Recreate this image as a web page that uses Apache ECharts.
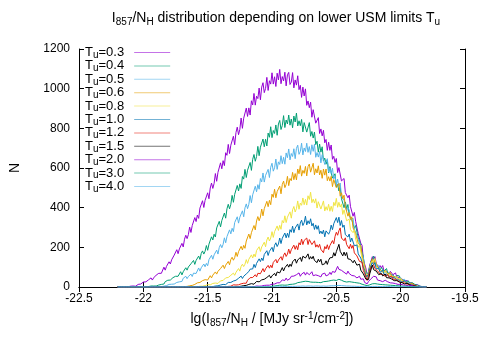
<!DOCTYPE html>
<html><head><meta charset="utf-8">
<script src="https://cdn.jsdelivr.net/npm/echarts@6/dist/echarts.min.js"></script>
<style>html,body{margin:0;padding:0;background:#fff}#c{width:491px;height:343px}</style>
</head><body><div id="c"></div>
<script>
var xs = [
-22.20,-22.19,-22.18,-22.17,-22.16,-22.15,-22.14,-22.13,-22.12,-22.11,
-22.10,-22.09,-22.08,-22.07,-22.06,-22.05,-22.04,-22.03,-22.02,-22.01,
-22.00,-21.99,-21.98,-21.97,-21.96,-21.95,-21.94,-21.93,-21.92,-21.91,
-21.90,-21.89,-21.88,-21.87,-21.86,-21.85,-21.84,-21.83,-21.82,-21.81,
-21.80,-21.79,-21.78,-21.77,-21.76,-21.75,-21.74,-21.73,-21.72,-21.71,
-21.70,-21.69,-21.68,-21.67,-21.66,-21.65,-21.64,-21.63,-21.62,-21.61,
-21.60,-21.59,-21.58,-21.57,-21.56,-21.55,-21.54,-21.53,-21.52,-21.51,
-21.50,-21.49,-21.48,-21.47,-21.46,-21.45,-21.44,-21.43,-21.42,-21.41,
-21.40,-21.39,-21.38,-21.37,-21.36,-21.35,-21.34,-21.33,-21.32,-21.31,
-21.30,-21.29,-21.28,-21.27,-21.26,-21.25,-21.24,-21.23,-21.22,-21.21,
-21.20,-21.19,-21.18,-21.17,-21.16,-21.15,-21.14,-21.13,-21.12,-21.11,
-21.10,-21.09,-21.08,-21.07,-21.06,-21.05,-21.04,-21.03,-21.02,-21.01,
-21.00,-20.99,-20.98,-20.97,-20.96,-20.95,-20.94,-20.93,-20.92,-20.91,
-20.90,-20.89,-20.88,-20.87,-20.86,-20.85,-20.84,-20.83,-20.82,-20.81,
-20.80,-20.79,-20.78,-20.77,-20.76,-20.75,-20.74,-20.73,-20.72,-20.71,
-20.70,-20.69,-20.68,-20.67,-20.66,-20.65,-20.64,-20.63,-20.62,-20.61,
-20.60,-20.59,-20.58,-20.57,-20.56,-20.55,-20.54,-20.53,-20.52,-20.51,
-20.50,-20.49,-20.48,-20.47,-20.46,-20.45,-20.44,-20.43,-20.42,-20.41,
-20.40,-20.39,-20.38,-20.37,-20.36,-20.35,-20.34,-20.33,-20.32,-20.31,
-20.30,-20.29,-20.28,-20.27,-20.26,-20.25,-20.24,-20.23,-20.22,-20.21,
-20.20,-20.19,-20.18,-20.17,-20.16,-20.15,-20.14,-20.13,-20.12,-20.11,
-20.10,-20.09,-20.08,-20.07,-20.06,-20.05,-20.04,-20.03,-20.02,-20.01,
-20.00,-19.99,-19.98,-19.97,-19.96,-19.95,-19.94,-19.93,-19.92,-19.91,
-19.90,-19.89,-19.88,-19.87,-19.86,-19.85,-19.84,-19.83,-19.82,-19.81,
-19.80];

var labels = ['0.3','0.4','0.5','0.6','0.8','1.0','1.2','1.5','2.0','3.0','4.0'];
var xTicks = [-22.5, -22, -21.5, -21, -20.5, -20, -19.5];
var yTicks = [0, 200, 400, 600, 800, 1000, 1200];

var t03 = [
0,0,0,0,0,0,0,1,1,2,
4,1,5,7,4,6,13,8,15,15,
25,19,26,21,36,33,46,35,46,46,
60,50,69,79,69,79,100,85,104,103,
127,116,137,128,161,158,188,168,192,192,
220,202,241,261,244,264,302,275,310,309,
350,330,363,346,398,390,435,401,437,434,
475,445,499,524,497,522,572,533,578,574,
626,596,637,612,677,664,719,673,715,710,
760,717,779,806,768,795,852,800,851,843,
902,860,903,867,939,918,976,917,962,950,
1003,944,1008,1030,980,1001,1057,991,1040,1023,
1080,1023,1060,1011,1078,1044,1097,1025,1061,1039,
1083,1014,1070,1082,1021,1033,1081,1004,1044,1018,
1065,995,1017,956,1008,963,999,916,938,904,
932,856,894,893,826,825,854,774,797,762,
790,727,744,689,730,689,716,644,659,628,
648,577,602,595,535,530,547,476,485,450,
463,405,407,357,376,331,333,269,262,221,
210,139,115,94,53,77,112,113,153,139,
153,120,119,96,108,96,108,83,91,80,
89,66,79,80,62,62,71,50,57,48,
55,40,44,32,41,32,37,22,25,18,
21,11,13,12,5,4,4,1,1,0,
0];
var t04 = [
0,0,0,0,0,0,0,0,0,0,
0,0,0,0,0,0,0,0,0,0,
0,0,1,2,2,4,5,4,5,9,
5,11,10,18,13,20,15,27,24,34,
25,35,34,47,37,54,63,54,62,77,
61,77,77,97,85,101,91,117,111,134,
114,134,133,156,139,169,182,166,180,209,
185,216,217,253,237,266,252,298,292,331,
303,335,335,373,347,394,417,394,417,462,
427,467,465,512,484,520,497,557,544,593,
552,589,583,628,588,644,668,634,658,709,
662,705,695,746,707,745,711,776,755,808,
753,789,774,817,765,822,840,794,814,864,
804,842,822,867,816,847,803,862,832,877,
812,838,813,845,782,829,837,781,790,829,
760,784,751,781,718,735,680,721,680,707,
635,650,619,639,575,607,605,549,548,571,
505,517,484,502,445,450,400,429,395,416,
361,367,339,348,296,310,301,248,234,233,
175,151,100,92,53,79,83,129,142,156,
124,123,104,110,83,98,99,80,82,93,
69,76,65,74,60,62,47,58,49,56,
38,42,34,39,25,32,31,19,18,22,
12,13,8,9,4,4,1,2,1,1,
0];
var t05 = [
0,0,0,0,0,0,0,0,0,0,
0,0,0,0,0,0,0,0,0,0,
0,0,0,0,0,0,0,0,0,0,
0,1,1,3,2,5,4,8,7,11,
13,10,14,22,15,24,23,33,26,35,
28,44,40,54,42,53,52,65,53,70,
78,68,77,96,80,97,95,116,102,119,
107,138,133,160,140,162,160,186,166,199,
214,198,215,248,223,254,252,288,268,296,
279,325,316,354,322,352,349,384,354,399,
419,395,417,461,425,465,462,508,480,516,
493,547,530,575,529,563,554,593,552,604,
624,584,601,645,593,631,618,662,622,654,
619,676,652,696,641,673,658,697,647,699,
715,669,683,725,666,701,683,725,679,708,
668,717,684,720,654,678,655,683,626,667,
674,618,619,647,579,601,572,599,545,559,
512,544,505,524,459,468,437,445,383,399,
388,339,333,347,291,294,262,267,219,210,
164,150,98,90,48,73,84,123,124,141,
141,110,103,109,83,91,82,92,75,81,
64,76,65,73,55,59,50,55,40,48,
48,34,34,39,25,28,22,25,16,17,
9,13,7,9,2,3,1,2,0,1,
0];
var t06 = [
0,0,0,0,0,0,0,0,0,0,
0,0,0,0,0,0,0,0,0,0,
0,0,0,0,0,0,0,0,0,0,
0,0,0,0,0,0,0,0,0,0,
0,0,0,0,0,0,0,0,0,0,
0,0,2,1,3,4,6,5,8,10,
13,12,21,15,23,22,32,24,37,43,
35,42,57,46,60,59,76,65,79,70,
93,89,110,93,110,109,129,112,139,150,
135,148,175,154,178,176,205,187,210,195,
232,229,267,244,274,275,310,288,333,355,
334,353,393,359,395,390,432,405,437,415,
468,452,493,450,481,472,509,470,517,534,
501,517,558,511,547,536,578,541,572,540,
595,571,612,559,588,573,608,560,607,620,
579,588,624,566,596,575,611,565,589,548,
595,564,595,536,556,534,558,506,542,547,
501,500,522,458,475,445,463,405,407,357,
376,341,354,298,302,270,272,220,227,208,
159,128,107,65,54,66,98,105,142,119,
137,114,115,89,91,82,89,72,83,83,
65,66,73,55,61,52,58,45,48,36,
44,36,40,27,29,22,25,15,18,18,
9,9,10,4,4,2,3,1,1,0,
0];
var t08 = [
0,0,0,0,0,0,0,0,0,0,
0,0,0,0,0,0,0,0,0,0,
0,0,0,0,0,0,0,0,0,0,
0,0,0,0,0,0,0,0,0,0,
0,0,0,0,0,0,0,0,0,0,
0,0,0,0,0,0,0,0,0,0,
0,1,1,2,4,3,4,4,7,7,
12,6,11,11,18,11,20,24,18,22,
31,23,33,33,46,38,48,41,59,55,
70,59,74,74,93,80,104,115,103,115,
138,119,140,137,162,146,166,152,184,176,
203,179,202,199,226,203,237,252,232,247,
279,250,279,274,308,285,311,291,335,323,
359,325,352,346,379,347,389,406,378,395,
434,392,423,412,449,415,442,413,460,441,
478,425,443,423,445,398,430,435,393,403,
434,383,405,387,417,382,407,381,427,410,
447,402,427,403,419,366,389,383,334,328,
342,289,299,274,288,241,241,200,212,177,
177,114,91,65,55,59,95,126,132,132,
144,106,104,91,96,80,85,70,83,72,
81,60,63,56,62,46,53,52,39,39,
45,30,33,27,32,20,21,13,18,12,
13,6,6,4,4,1,1,1,0,0,
0];
var t10 = [
0,0,0,0,0,0,0,0,0,0,
0,0,0,0,0,0,0,0,0,0,
0,0,0,0,0,0,0,0,0,0,
0,0,0,0,0,0,0,0,0,0,
0,0,0,0,0,0,0,0,0,0,
0,0,0,0,0,0,0,0,0,0,
0,0,0,0,0,0,0,0,0,0,
0,1,1,2,2,3,5,4,6,7,
10,5,13,16,12,15,23,15,23,21,
30,25,34,28,44,41,55,43,54,52,
66,56,78,90,80,91,114,98,119,118,
142,128,146,133,164,157,183,159,180,176,
200,178,210,223,204,217,247,219,246,241,
272,248,271,250,289,276,307,274,297,290,
318,287,323,337,310,324,357,313,334,319,
344,308,321,290,313,291,309,269,282,268,
287,253,283,293,266,281,312,289,319,313,
350,325,352,310,335,301,312,264,272,252,
267,227,247,245,208,203,212,167,173,146,
148,100,83,53,51,60,92,91,123,111,
123,92,96,93,74,74,84,65,72,62,
70,55,59,47,56,47,52,37,41,34,
38,25,31,30,20,19,24,13,15,10,
12,6,6,2,4,2,2,0,0,0,
0];
var t12 = [
0,0,0,0,0,0,0,0,0,0,
0,0,0,0,0,0,0,0,0,0,
0,0,0,0,0,0,0,0,0,0,
0,0,0,0,0,0,0,0,0,0,
0,0,0,0,0,0,0,0,0,0,
0,0,0,0,0,0,0,0,0,0,
0,0,0,0,0,0,0,0,0,0,
0,0,0,0,0,0,0,0,0,0,
0,1,1,3,1,3,3,6,4,8,
11,7,10,17,11,17,16,25,19,25,
19,34,33,47,37,48,48,62,51,69,
78,67,75,93,76,92,89,109,95,110,
97,124,117,139,121,136,134,153,135,160,
172,154,166,191,168,188,185,211,190,208,
188,223,212,242,214,235,231,247,214,239,
245,214,218,233,201,213,200,215,190,198,
173,204,192,213,189,209,208,234,218,255,
276,261,284,298,247,256,233,248,214,223,
193,216,195,210,172,177,157,164,129,135,
125,84,67,64,33,58,68,101,102,112,
93,101,82,88,65,71,63,70,54,63,
63,49,49,55,40,44,38,43,31,34,
23,31,24,27,16,18,14,16,8,11,
10,5,4,5,1,2,1,1,0,0,
0];
var t15 = [
0,0,0,0,0,0,0,0,0,0,
0,0,0,0,0,0,0,0,0,0,
0,0,0,0,0,0,0,0,0,0,
0,0,0,0,0,0,0,0,0,0,
0,0,0,0,0,0,0,0,0,0,
0,0,0,0,0,0,0,0,0,0,
0,0,0,0,0,0,0,0,0,0,
0,0,0,0,0,0,0,0,0,0,
0,0,0,0,0,0,0,0,0,0,
0,0,2,1,2,2,4,5,7,5,
8,8,13,8,17,20,14,18,28,18,
26,25,36,30,39,33,48,45,59,45,
56,54,69,56,76,83,71,80,98,81,
97,94,114,100,115,104,127,121,141,120,
136,131,149,129,155,162,146,150,167,140,
153,142,155,134,142,123,140,127,140,112,
121,117,132,114,135,147,137,149,173,156,
178,181,215,180,185,157,176,158,174,142,
151,139,147,122,135,133,110,108,115,85,
87,66,63,39,34,38,67,77,111,87,
96,80,81,62,68,69,56,57,65,47,
52,46,52,40,43,32,40,32,37,25,
28,22,25,15,20,19,11,11,13,6,
7,5,5,2,2,0,2,0,0,0,
0];
var t20 = [
0,0,0,0,0,0,0,0,0,0,
0,0,0,0,0,0,0,0,0,0,
0,0,0,0,0,0,0,0,0,0,
0,0,0,0,0,0,0,0,0,0,
0,0,0,0,0,0,0,0,0,0,
0,0,0,0,0,0,0,0,0,0,
0,0,0,0,0,0,0,0,0,0,
0,0,0,0,0,0,0,0,0,0,
0,0,0,0,0,0,0,0,0,0,
0,0,0,0,0,0,0,0,0,0,
0,1,1,2,2,3,2,4,5,4,
4,8,5,9,8,13,9,13,9,17,
14,23,15,21,21,28,21,31,36,29,
33,45,34,44,42,54,46,55,46,62,
56,71,54,65,62,74,60,73,77,62,
65,77,57,67,61,70,57,64,51,65,
56,70,56,65,62,74,63,78,85,74,
82,104,89,96,84,94,74,81,65,80,
68,78,58,63,56,62,46,54,54,39,
38,41,23,24,16,28,27,42,43,54,
47,51,35,38,32,38,27,33,34,25,
26,32,21,24,20,25,17,20,13,19,
14,18,10,12,9,12,6,9,9,4,
4,6,2,3,1,2,1,1,0,0,
0];
var t30 = [
0,0,0,0,0,0,0,0,0,0,
0,0,0,0,0,0,0,0,0,0,
0,0,0,0,0,0,0,0,0,0,
0,0,0,0,0,0,0,0,0,0,
0,0,0,0,0,0,0,0,0,0,
0,0,0,0,0,0,0,0,0,0,
0,0,0,0,0,0,0,0,0,0,
0,0,0,0,0,0,0,0,0,0,
0,0,0,0,0,0,0,0,0,0,
0,0,0,0,0,0,0,0,0,0,
0,0,0,0,0,0,0,0,0,0,
0,0,0,0,1,0,1,2,1,2,
4,2,5,4,7,5,9,6,10,8,
9,14,10,14,13,17,14,19,16,22,
22,19,24,21,27,23,29,24,28,25,
25,29,24,27,24,28,23,27,22,27,
27,23,28,25,30,27,33,29,35,31,
33,41,39,42,34,36,28,31,25,28,
27,22,25,20,23,18,21,16,19,14,
14,15,10,11,7,11,11,16,16,18,
17,14,15,12,13,11,12,10,11,9,
10,9,9,8,8,7,7,6,6,5,
5,4,4,4,4,3,3,2,2,2,
2,1,1,1,1,0,0,0,0,0,
0];
var t40 = [
0,0,0,0,0,0,0,0,0,0,
0,0,0,0,0,0,0,0,0,0,
0,0,0,0,0,0,0,0,0,0,
0,0,0,0,0,0,0,0,0,0,
0,0,0,0,0,0,0,0,0,0,
0,0,0,0,0,0,0,0,0,0,
0,0,0,0,0,0,0,0,0,0,
0,0,0,0,0,0,0,0,0,0,
0,0,0,0,0,0,0,0,0,0,
0,0,0,0,0,0,0,0,0,0,
0,0,0,0,0,0,0,0,0,0,
0,0,0,0,0,0,0,0,0,0,
0,0,1,1,1,1,1,2,2,2,
2,2,2,3,3,3,3,3,3,4,
4,4,4,4,5,4,4,5,5,5,
5,4,4,5,5,5,5,4,4,5,
5,5,4,5,5,6,6,6,6,7,
7,7,8,7,7,6,6,5,5,5,
5,5,4,4,4,4,3,3,3,2,
2,2,2,1,1,2,2,2,3,3,
3,3,3,3,2,2,2,2,2,2,
2,2,2,1,1,1,1,1,1,1,
1,1,1,1,1,1,0,0,0,0,
0,0,0,0,0,0,0,0,0,0,
0];

var seriesValues = [t03,t04,t05,t06,t08,t10,t12,t15,t20,t30,t40];
var colors = ['#9400d3','#009e73','#56b4e9','#e69f00','#f0e442','#0072b2','#e51e10','#000000','#9400d3','#009e73','#56b4e9'];

var FONT = '"Liberation Sans", Arial, sans-serif';
function richSet(size, sub) {
  return {
    n: {fontSize: size, fontFamily: FONT, color: '#000'},
    sub: {fontSize: sub, fontFamily: FONT, color: '#000', padding: [Math.round(size * 0.5), 0, 0, 0]},
    sup: {fontSize: sub, fontFamily: FONT, color: '#000', padding: [0, 0, Math.round(size * 0.5), 0]}
  };
}

var chart = echarts.init(document.getElementById('c'), null, {renderer: 'canvas'});
var series = seriesValues.map(function (vals, k) {
  return {
    name: 'T{sub|u}{n|=' + labels[k] + '}',
    type: 'line',
    showSymbol: false,
    symbol: 'none',
    animation: false,
    silent: true,
    lineStyle: {width: 1, color: colors[k]},
    itemStyle: {color: colors[k]},
    data: xs.map(function (x, i) { return [x, vals[i]]; })
  };
});

var axisCommon = {
  axisLine: {show: true, lineStyle: {color: '#000', width: 1}},
  axisTick: {show: true, inside: true, length: 5, lineStyle: {color: '#000'}},
  splitLine: {show: false}
};

chart.setOption({
  animation: false,
  backgroundColor: '#fff',
  title: {
    text: '{n|I}{sub|857}{n|/N}{sub|H}{n| distribution depending on lower USM limits T}{sub|u}',
    left: 271, top: 5, textAlign: 'center',
    textStyle: {rich: richSet(14, 10), fontSize: 14, fontWeight: 'normal', fontFamily: FONT}
  },
  legend: {
    orient: 'vertical', left: 80, top: 40, align: 'right',
    itemWidth: 36, itemHeight: 1, itemGap: -1.6,
    icon: 'rect',
    itemStyle: {opacity: 0.55},
    textStyle: {
      fontFamily: FONT, fontSize: 13, color: '#000', lineHeight: 13,
      rich: {
        sub: {fontSize: 10, fontFamily: FONT, color: '#000', lineHeight: 8, padding: [5, 0, 0, 0]},
        n: {fontSize: 13, fontFamily: FONT, color: '#000', lineHeight: 13, padding: [0, 5, 0, 0]}
      }
    },
    data: series.map(function (s) { return {name: s.name, icon: 'rect'}; })
  },
  grid: {left: 75, right: 26, top: 49, bottom: 56, containLabel: false},
  xAxis: [
    Object.assign({}, axisCommon, {
      type: 'value', min: xTicks[0], max: xTicks[xTicks.length - 1], interval: 0.5, position: 'bottom',
      axisLabel: {color: '#000', fontSize: 12, fontFamily: FONT, margin: 6,
        formatter: function (v) { return String(Math.round(v * 10) / 10); }},
      name: '{n|lg(I}{sub|857}{n|/N}{sub|H}{n| / [MJy sr}{sup|-1}{n|/cm}{sup|-2}{n|])}',
      nameLocation: 'middle', nameGap: 24,
      nameTextStyle: {rich: richSet(14, 10), fontSize: 14, fontFamily: FONT, color: '#000'}
    }),
    Object.assign({}, axisCommon, {
      type: 'value', min: xTicks[0], max: xTicks[xTicks.length - 1], interval: 0.5, position: 'top',
      axisLabel: {show: false}
    })
  ],
  yAxis: [
    Object.assign({}, axisCommon, {
      type: 'value', min: yTicks[0], max: yTicks[yTicks.length - 1], interval: 200, position: 'left',
      axisLabel: {color: '#000', fontSize: 12, fontFamily: FONT, margin: 9,
        formatter: function (v) { return String(v); }},
      name: 'N', nameLocation: 'middle', nameGap: 57,
      nameTextStyle: {fontSize: 14, fontFamily: FONT, color: '#000'}
    }),
    Object.assign({}, axisCommon, {
      type: 'value', min: yTicks[0], max: yTicks[yTicks.length - 1], interval: 200, position: 'right',
      axisLabel: {show: false}
    })
  ],
  series: series
});
</script>
</body></html>
